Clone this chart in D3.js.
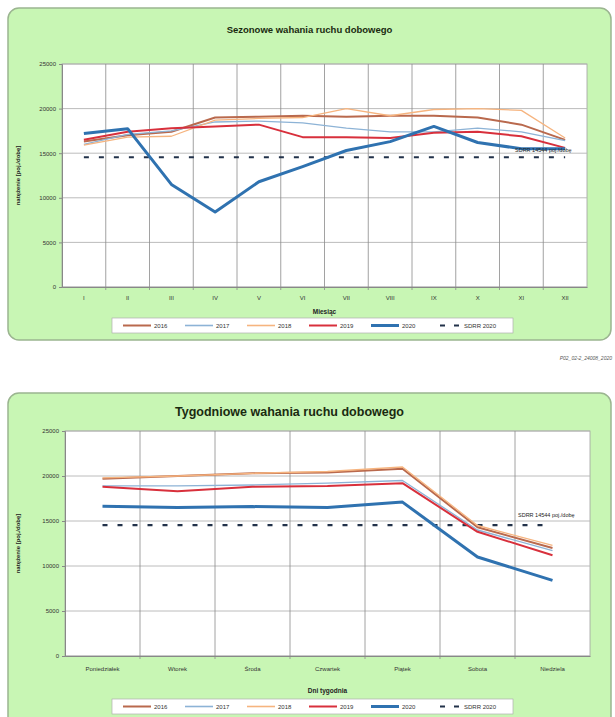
<!DOCTYPE html>
<html><head><meta charset="utf-8">
<script src="https://cdn.jsdelivr.net/npm/d3@7/dist/d3.min.js"></script>
<style>body{margin:0;background:#fff;font-family:"Liberation Sans",Arial,sans-serif}</style>
</head><body><svg id="c" width="615" height="717"></svg>
<script>
const months = ["I","II","III","IV","V","VI","VII","VIII","IX","X","XI","XII"];
const days = ["Poniedziałek","Wtorek","Środa","Czwartek","Piątek","Sobota","Niedziela"];
const yTicks = [0,5000,10000,15000,20000,25000];
const seriesNames = ["2016","2017","2018","2019","2020"];
const sdrr = 14544;
const sdrrName = "SDRR 2020";

const m2016 = [16300,17000,17400,19000,19100,19200,19100,19200,19200,19000,18200,16500];
const m2017 = [16000,17100,17500,18500,18600,18400,17800,17400,17400,17800,17400,16400];
const m2018 = [15900,16800,16900,18700,18900,19000,20000,19200,19900,20000,19800,16700];
const m2019 = [16500,17400,17800,18000,18200,16800,16800,16700,17300,17400,16900,15600];
const m2020 = [17200,17750,11500,8400,11800,13500,15300,16300,18000,16200,15500,15500];

const d2016 = [19700,20000,20300,20400,20800,14300,12000];
const d2017 = [18900,18900,19000,19200,19500,14000,11700];
const d2018 = [19800,20000,20300,20500,21000,14500,12300];
const d2019 = [18800,18300,18800,18900,19200,13800,11200];
const d2020 = [16650,16500,16600,16500,17100,11000,8400];

const colors = ["#b9694d","#8db3d6","#f6b47f","#d8303c","#2f72b0"];
const widths = [2,1.3,1.3,2,3];
const sdrrColor = "#22324a";

const svg = d3.select("#c");

function panel(cfg){
  const g = svg.append("g");
  g.append("rect").attr("x",cfg.px).attr("y",cfg.py).attr("width",cfg.pw).attr("height",cfg.ph)
    .attr("rx",11).attr("fill","#c8f6b4").attr("stroke","#9bb590").attr("stroke-width",1.5);
  g.append("text").attr("x",cfg.px+cfg.pw/2+(cfg.titleDx||0)).attr("y",cfg.titleY).attr("text-anchor","middle")
    .attr("font-size",cfg.titleSize).attr("font-weight","bold").attr("fill","#1a2a10").text(cfg.title);
  const x = d3.scaleBand().domain(cfg.cats).range([cfg.x0,cfg.x1]).padding(0);
  const y = d3.scaleLinear().domain([0,25000]).range([cfg.y1,cfg.y0]);
  g.append("rect").attr("x",cfg.x0).attr("y",cfg.y0).attr("width",cfg.x1-cfg.x0).attr("height",cfg.y1-cfg.y0)
    .attr("fill","#fff").attr("stroke","#a0a0a0").attr("stroke-width",0.8);
  // horizontal grid
  g.selectAll(null).data(yTicks).enter().append("line")
    .attr("x1",cfg.x0).attr("x2",cfg.x1).attr("y1",d=>y(d)).attr("y2",d=>y(d))
    .attr("stroke","#b4b4b4").attr("stroke-width",0.9);
  // vertical grid at band boundaries
  const bounds = cfg.cats.slice(1).map(c=>x(c));
  g.selectAll(null).data(bounds).enter().append("line")
    .attr("x1",d=>d).attr("x2",d=>d).attr("y1",cfg.y0).attr("y2",cfg.y1+3)
    .attr("stroke","#8a8a8a").attr("stroke-width",0.8);
  // y axis
  const ya = d3.axisLeft(y).tickValues(yTicks).tickSize(3).tickFormat(d3.format("d"));
  const yg = g.append("g").attr("transform",`translate(${cfg.x0},0)`).call(ya);
  yg.select(".domain").attr("stroke","#888");
  yg.selectAll(".tick line").attr("stroke","#888");
  yg.selectAll("text").attr("font-size",6).attr("fill","#333").attr("font-family","Liberation Sans, Arial");
  // x axis labels
  const xa = d3.axisBottom(x).tickSize(0).tickPadding(cfg.xPad);
  const xg = g.append("g").attr("transform",`translate(0,${cfg.y1})`).call(xa);
  xg.select(".domain").attr("stroke","#888");
  xg.selectAll("text").attr("font-size",cfg.xFont).attr("fill","#333").attr("font-family","Liberation Sans, Arial");
  // axis titles
  g.append("text").attr("transform",`translate(${cfg.ytX},${(cfg.y0+cfg.y1)/2}) rotate(-90)`)
    .attr("text-anchor","middle").attr("font-size",6).attr("font-weight","bold").attr("fill","#222")
    .text("natężenie [poj./dobę]");
  g.append("text").attr("x",(cfg.x0+cfg.x1)/2).attr("y",cfg.xtY).attr("text-anchor","middle")
    .attr("font-size",6.5).attr("font-weight","bold").attr("fill","#222").text(cfg.xTitle);
  // SDRR dashed
  const cx = c=>x(c)+x.bandwidth()/2;
  g.append("line").attr("x1",cx(cfg.cats[0])).attr("x2",cx(cfg.cats[cfg.cats.length-1]))
    .attr("y1",y(sdrr)).attr("y2",y(sdrr)).attr("stroke",sdrrColor).attr("stroke-width",2.2)
    .attr("stroke-dasharray","5,10");
  // series
  const line = d3.line().x((d,i)=>cx(cfg.cats[i])).y(d=>y(d));
  cfg.data.forEach((s,i)=>{
    g.append("path").attr("d",line(s)).attr("fill","none").attr("stroke",colors[i])
      .attr("stroke-width",widths[i]).attr("stroke-linejoin","round");
  });
  g.append("text").attr("x",cfg.lblX).attr("y",cfg.lblY).attr("font-size",5.5).attr("fill","#222")
    .text("SDRR 14544  poj./dobę");
  // legend
  const lg = g.append("g").attr("transform",`translate(112,${cfg.legY})`);
  lg.append("rect").attr("width",401).attr("height",15).attr("fill","#fff").attr("stroke","#b0b0b0").attr("stroke-width",0.7);
  const names = seriesNames.concat([sdrrName]);
  names.forEach((n,i)=>{
    const ox = 11 + i*62;
    const ln = lg.append("line").attr("x1",ox).attr("x2",ox+28).attr("y1",7.5).attr("y2",7.5);
    if(i<5) ln.attr("stroke",colors[i]).attr("stroke-width",Math.max(widths[i],1.6));
    else ln.attr("stroke",sdrrColor).attr("stroke-width",2.2).attr("stroke-dasharray","5,9").attr("x1",ox+7);
    lg.append("text").attr("x",ox+31).attr("y",10).attr("font-size",6).attr("fill","#333").text(n);
  });
}

panel({px:8,py:8,pw:603,ph:332,title:"Sezonowe wahania ruchu dobowego",titleY:33,titleSize:9.5,
  cats:months,x0:62,x1:587,y0:64,y1:287,xPad:9,xFont:6,xTitle:"Miesiąc",xtY:314,ytX:20,
  data:[m2016,m2017,m2018,m2019,m2020],lblX:515,lblY:152,legY:318});

svg.append("text").attr("x",612).attr("y",360).attr("text-anchor","end").attr("font-size",5)
  .attr("font-style","italic").attr("fill","#555").text("P02_02-2_24008_2020");

panel({px:8,py:393,pw:603,ph:340,title:"Tygodniowe wahania ruchu dobowego",titleY:416,titleSize:12.5,titleDx:-20,
  cats:days,x0:65,x1:590,y0:431,y1:656,xPad:11,xFont:6,xTitle:"Dni tygodnia",xtY:693,ytX:20,
  data:[d2016,d2017,d2018,d2019,d2020],lblX:518,lblY:517,legY:699});
</script></body></html>
